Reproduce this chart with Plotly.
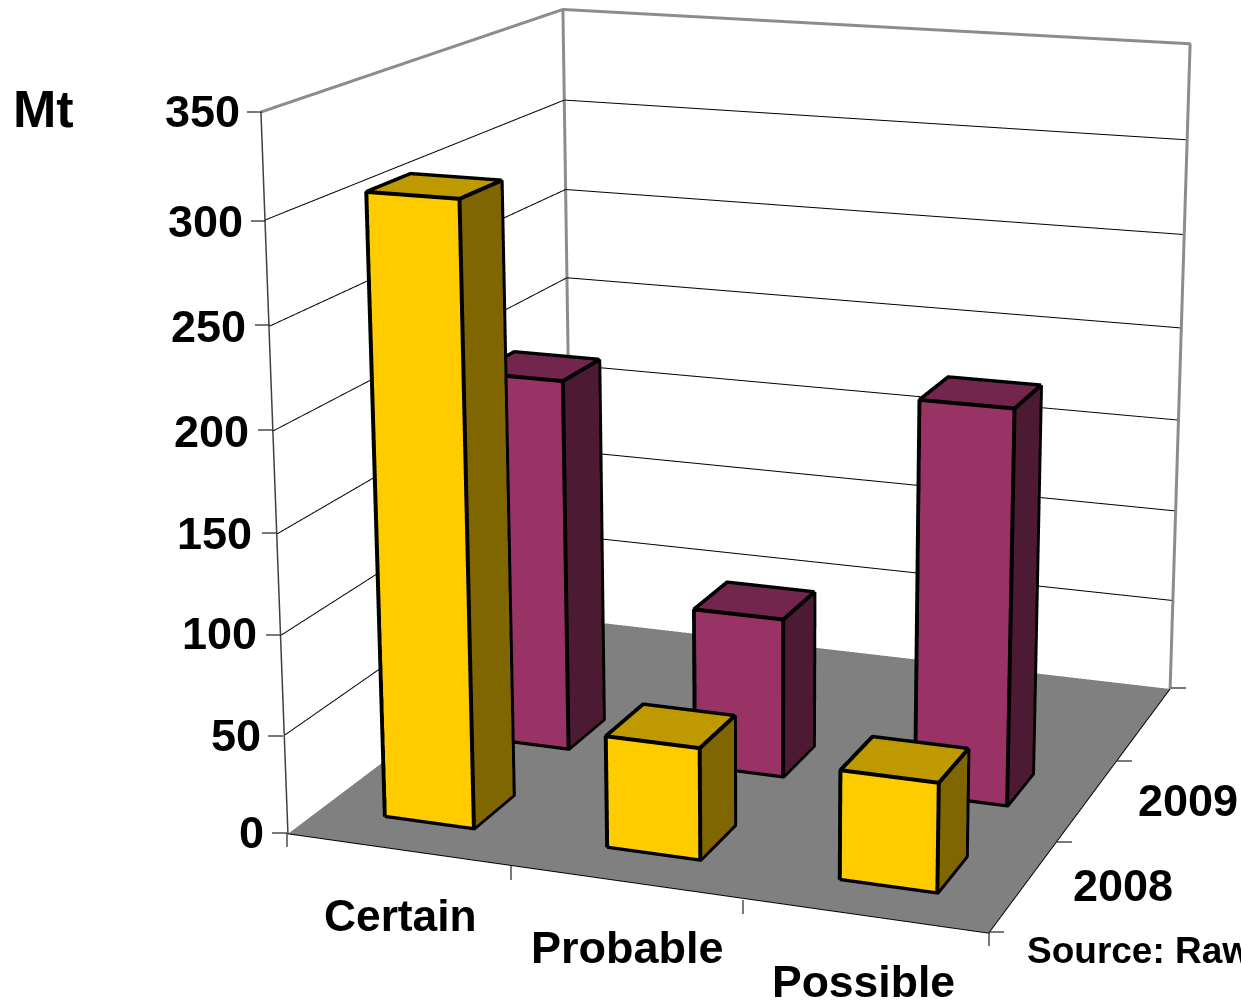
import plotly.graph_objects as go

# ---- data ----
categories = ["Certain", "Probable", "Possible"]
series_names = ["2008", "2009"]
values_2008 = [308.5, 56, 54]
values_2009 = [194.5, 83, 201.5]
value_ticks = [0, 50, 100, 150, 200, 250, 300, 350]
unit_label = "Mt"
source_label = "Source: Raw"

# ---- style ----
# plotly's lens is a fixed 45 degrees; the narrow perspective of this chart needs a page-sized
# viewport larger than the window, positioned so the window shows the right part of it.
FIG_W, FIG_H = 1623, 2843
LEFT_OFFSET, TOP_OFFSET = 0, -1034
FONT = "Liberation Sans"
BAR_LOW, BAR_HIGH = 0.3, 0.7
EPS_XY, EPS_Z = 0.003, 0.6
yellow = dict(front="#FFCC00", side="#806600", top="#BF9900")
purple = dict(front="#993366", side="#4D1A33", top="#73264D")
FLAT = dict(ambient=1, diffuse=0, specular=0, fresnel=0, roughness=1)


def px(x, y):
    return dict(x=(x - LEFT_OFFSET) / FIG_W, y=1 - (y - TOP_OFFSET) / FIG_H, xref="paper", yref="paper")


def label(text, x, y, size=45, anchor="left"):
    return dict(text="<b>%s</b>" % text, showarrow=False, xanchor=anchor, yanchor="middle",
                font=dict(family=FONT, size=size, color="black"), **px(x, y))


def tick(x0, y0, x1, y1):
    a, b = px(x0, y0), px(x1, y1)
    return dict(type="line", xref="paper", yref="paper", x0=a["x"], y0=a["y"], x1=b["x"], y1=b["y"],
                line=dict(color="#303030", width=1.3))


def polyline(points, color, width):
    xs, ys, zs = [], [], []
    for q in points:
        xs.append(q[0] if q else None)
        ys.append(q[1] if q else None)
        zs.append(q[2] if q else None)
    return go.Scatter3d(x=xs, y=ys, z=zs, mode="lines", line=dict(color=color, width=width),
                        hoverinfo="skip", showlegend=False)


def bar_traces(i, j, value, col):
    x0, x1 = i + BAR_LOW, i + BAR_HIGH
    y0, y1 = j + BAR_LOW, j + BAR_HIGH
    v = [(x0, y0, 0), (x1, y0, 0), (x1, y1, 0), (x0, y1, 0),
         (x0, y0, value), (x1, y0, value), (x1, y1, value), (x0, y1, value)]
    faces = [((0, 1, 5), col["front"]), ((0, 5, 4), col["front"]),
             ((1, 2, 6), col["side"]), ((1, 6, 5), col["side"]),
             ((4, 5, 6), col["top"]), ((4, 6, 7), col["top"])]
    mesh = go.Mesh3d(x=[q[0] for q in v], y=[q[1] for q in v], z=[q[2] for q in v],
                     i=[f[0][0] for f in faces], j=[f[0][1] for f in faces], k=[f[0][2] for f in faces],
                     facecolor=[f[1] for f in faces], flatshading=True, lighting=FLAT,
                     hoverinfo="skip", showscale=False)
    # edges sit a hair in front of the faces so the depth test keeps their full width
    ex0, ex1, ey0, ey1 = x0 - EPS_XY, x1 + EPS_XY, y0 - EPS_XY, y1 + EPS_XY
    zb, zt = EPS_Z, value + EPS_Z
    a = (ex0, ey0, zb); b = (ex1, ey0, zb); c = (ex1, ey1, zb)
    d = (ex0, ey0, zt); e = (ex1, ey0, zt); f = (ex1, ey1, zt); g = (ex0, ey1, zt)
    edges = polyline([a, b, e, d, a, None, b, c, f, e, None, d, g, f], "black", 8)
    return [mesh, edges]


nx, ny, zmax = len(categories), 3, value_ticks[-1]
traces = [go.Mesh3d(x=[0, nx, nx, 0], y=[0, 0, ny, ny], z=[0, 0, 0, 0], i=[0, 0], j=[1, 2], k=[2, 3],
                    color="#808080", flatshading=True, lighting=FLAT, hoverinfo="skip", showscale=False)]
for j, (vals, col) in enumerate([(values_2008, yellow), (values_2009, purple)]):
    for i, val in enumerate(vals):
        traces += bar_traces(i, j, val, col)

grid = []
for t in value_ticks[1:-1]:
    grid += [(0, 0, t), (0, ny, t), (nx, ny, t), None]
traces.append(polyline(grid, "black", 2))
traces.append(polyline([(0, 0, zmax), (0, ny, zmax), (nx, ny, zmax), (nx, ny, 0), None,
                        (0, ny, 0), (0, ny, zmax)], "#8C8C8C", 6))
traces.append(polyline([(0, 0, 0), (0, 0, zmax)], "#404040", 3))
traces.append(polyline([(0, 0, 0), (nx, 0, 0), (nx, ny, 0)], "black", 2))

fig = go.Figure(traces)

axis = dict(visible=False, showbackground=False, showgrid=False, zeroline=False, showticklabels=False,
            showline=False, showspikes=False, title="")
annots = [label(unit_label, 11, 109, 52)]
z_label_pos = {350: (242, 111), 300: (245, 221), 250: (248, 327), 200: (251, 431),
               150: (254, 533), 100: (259, 633), 50: (263, 735), 0: (266, 832)}
for t in value_ticks:
    annots.append(label(str(t), z_label_pos[t][0], z_label_pos[t][1], 45, "right"))
for name, (x, y), s in zip(categories, [(322, 915), (529, 948), (770, 981)], [44.3, 45, 44.5]):
    annots.append(label(name, x, y, s))
for name, (x, y) in zip(series_names, [(1071, 885), (1136, 800)]):
    annots.append(label(name, x, y, 45))
annots.append(label(source_label, 1025, 950, 37))

tick_shapes = [tick(x - 15, y, x, y) for x, y in
               [(262, 112), (266, 221), (270, 325), (273, 430), (277, 533), (281, 635), (283, 736), (287, 833)]]
tick_shapes += [tick(x, y, x, y + 14) for x, y in [(287, 833), (511, 866), (743, 900), (989, 932)]]
tick_shapes += [tick(x, y, x + 15, y) for x, y in [(989, 932), (1057, 842), (1117, 761), (1171, 688)]]

fig.update_layout(
    width=FIG_W, height=FIG_H, margin=dict(l=0, r=0, t=0, b=0), autosize=False,
    paper_bgcolor="white", showlegend=False, hovermode=False,
    annotations=annots, shapes=tick_shapes,
    scene=dict(
        domain=dict(x=[0, 1], y=[0, 1]),
        xaxis=dict(axis, range=[0, nx]),
        yaxis=dict(axis, range=[0, ny]),
        zaxis=dict(axis, range=[0, zmax]),
        aspectmode="manual", aspectratio=dict(x=1.0112, y=1.0, z=1.0123),
        camera=dict(eye=dict(x=1.6426, y=-4.4633, z=1.2856),
                    center=dict(x=0.0461, y=0.1156, z=0.0319),
                    up=dict(x=-0.0034, y=0.0001, z=1),
                    projection=dict(type="perspective")),
        dragmode=False,
    ),
)
post = """
document.documentElement.style.overflow='hidden';
document.body.style.overflow='hidden';
document.body.style.margin='0';
var g=document.getElementById('{plot_id}');
g.style.position='absolute';g.style.left='%dpx';g.style.top='%dpx';
""" % (LEFT_OFFSET, TOP_OFFSET)
fig.write_html("out.html", post_script=post, config=dict(displayModeBar=False))
